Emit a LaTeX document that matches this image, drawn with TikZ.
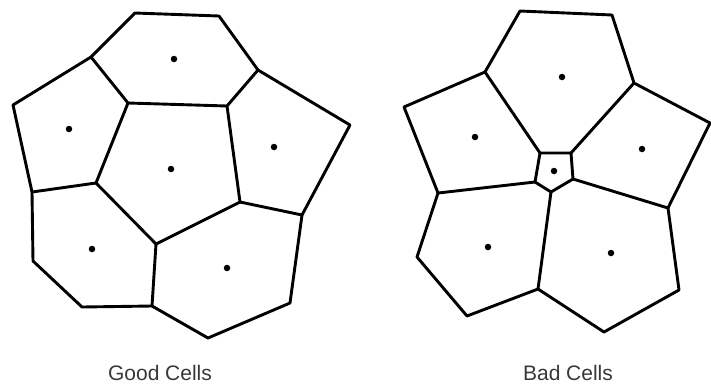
\documentclass[tikz,border=0pt]{standalone}
\usepackage{fontspec}
\setmainfont{Liberation Sans}
\usetikzlibrary{positioning}
\definecolor{figtext}{gray}{0.22}
\tikzset{
  fig/.style={x=1pt,y=-1pt},
  wall/.style={draw,line width=2.9pt,line join=round,line cap=round},
  site/.style={fill,circle,inner sep=0pt,minimum size=6.5pt},
  lbl/.style={font=\fontsize{21}{25}\selectfont,text=figtext,inner sep=0pt},
}

\begin{document}
\begin{tikzpicture}[fig]
\useasboundingbox (0,0) rectangle (711,384);

% good cells
\coordinate (g1) at (135,13);
\coordinate (g2) at (219,16);
\coordinate (g3) at (258,70);
\coordinate (g4) at (91,57);
\coordinate (g5) at (128,103);
\coordinate (g6) at (227,106);
\coordinate (g7) at (350,125);
\coordinate (g8) at (302,215);
\coordinate (g9) at (240,202);
\coordinate (g10) at (96,183);
\coordinate (g11) at (156,244);
\coordinate (g12) at (13,105);
\coordinate (g13) at (32,192);
\coordinate (g14) at (33,261);
\coordinate (g15) at (82,307);
\coordinate (g16) at (152,306);
\coordinate (g17) at (208,338);
\coordinate (g18) at (290,303);

\draw[wall] (g4) -- (g1) -- (g2) -- (g3) -- (g7) -- (g8) -- (g18) -- (g17)
  -- (g16) -- (g15) -- (g14) -- (g13) -- (g12) -- cycle;
\draw[wall] (g5) -- (g6) -- (g9) -- (g11) -- (g10) -- cycle;
\draw[wall] (g4) -- (g5);
\draw[wall] (g3) -- (g6);
\draw[wall] (g9) -- (g8);
\draw[wall] (g10) -- (g13);
\draw[wall] (g11) -- (g16);

\foreach \p [count=\i] in {(174,59),(69,129),(171,169),(274,147),(92,249),(227,268)}
  \node[site] (gs\i) at \p {};

% bad cells
\coordinate (b1) at (520,11);
\coordinate (b2) at (612,15);
\coordinate (b3) at (634,83);
\coordinate (b4) at (485,72);
\coordinate (b5) at (540,153);
\coordinate (b6) at (571,153);
\coordinate (b7) at (573,179);
\coordinate (b8) at (551,192);
\coordinate (b9) at (535,182);
\coordinate (b10) at (404,107);
\coordinate (b11) at (438,193);
\coordinate (b12) at (710,123);
\coordinate (b13) at (668,208);
\coordinate (b14) at (417,257);
\coordinate (b15) at (467,316);
\coordinate (b16) at (538,289);
\coordinate (b17) at (604,332);
\coordinate (b18) at (679,290);

\draw[wall] (b4) -- (b1) -- (b2) -- (b3) -- (b12) -- (b13) -- (b18) -- (b17)
  -- (b16) -- (b15) -- (b14) -- (b11) -- (b10) -- cycle;
\draw[wall] (b5) -- (b6) -- (b7) -- (b8) -- (b9) -- cycle;
\draw[wall] (b4) -- (b5);
\draw[wall] (b3) -- (b6);
\draw[wall] (b13) -- (b7);
\draw[wall] (b16) -- (b8);
\draw[wall] (b11) -- (b9);

\foreach \p [count=\i] in {(562,77),(475,137),(554,171),(642,149),(488,247),(611,253)}
  \node[site] (bs\i) at \p {};

\node[lbl] (good) at (160,373) {Good Cells};
\node[lbl] (bad) at (568,373) {Bad Cells};

\end{tikzpicture}
\end{document}
